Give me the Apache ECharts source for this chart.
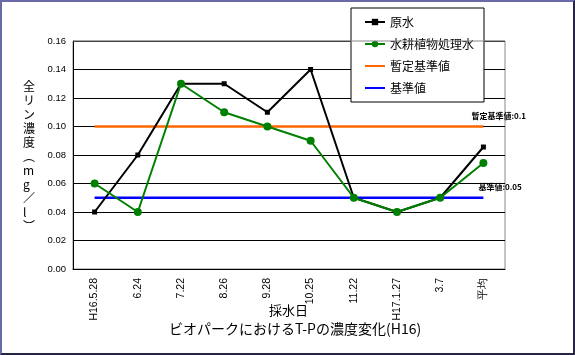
<!DOCTYPE html>
<html><head><meta charset="utf-8">
<script src="https://cdn.jsdelivr.net/npm/echarts@6/dist/echarts.min.js"></script>
<style>
html,body{margin:0;padding:0;background:#fff;}
#c{position:absolute;left:0;top:0;width:575px;height:355px;}
#f{position:absolute;left:0;top:0;width:575px;height:355px;box-sizing:border-box;border-top:2px solid #6a6aa8;border-left:2px solid #6a6aa8;border-right:2px solid #262644;border-bottom:2px solid #262644;pointer-events:none;}
</style></head>
<body><div id="c"></div><div id="f"></div>
<script>
var categories = ['H16.5.28','6.24','7.22','8.26','9.28','10.25','11.22','H17.1.27','3.7','平均'];
var rawWater = [0.04,0.08,0.13,0.13,0.11,0.14,0.05,0.04,0.05,0.0856];
var treatedWater = [0.06,0.04,0.13,0.11,0.10,0.09,0.05,0.04,0.05,0.0744];
var provisionalStd = [0.1,0.1,0.1,0.1,0.1,0.1,0.1,0.1,0.1,0.1];
var standard = [0.05,0.05,0.05,0.05,0.05,0.05,0.05,0.05,0.05,0.05];
var yTicks = {min:0, max:0.16, interval:0.02};
var seriesNames = ['原水','水耕植物処理水','暫定基準値','基準値'];
var stdLabels = ['暫定基準値:0.1','基準値:0.05'];

var FONT = '"Noto Sans CJK JP", "Noto Sans", sans-serif';
var LFONT = '"Liberation Sans", Arial, sans-serif';
function endLbl(text, off){
  return {show:true, formatter:text, offset:off, fontSize:8, fontWeight:'bold', color:'#000', fontFamily:FONT, distance:0};
}
var chart = echarts.init(document.getElementById('c'));
var yName = '全\nリ\nン\n濃\n度\n︵\nm\ng\n／\nl\n︶';
chart.setOption({
  animation:false,
  textStyle:{fontFamily:FONT},
  grid:{left:73,right:70,top:41,bottom:86,show:true,borderColor:'#888',borderWidth:1},
  legend:{
    orient:'vertical', left:351, top:8, padding:[8,10,8,13], itemWidth:20, itemHeight:8, itemGap:10,
    backgroundColor:'#fff', borderColor:'#000', borderWidth:1,
    textStyle:{fontSize:12, color:'#000', fontFamily:FONT},
    data:[
      {name:seriesNames[0]},
      {name:seriesNames[1]},
      {name:seriesNames[2], itemStyle:{opacity:0}},
      {name:seriesNames[3], itemStyle:{opacity:0}}
    ]
  },
  xAxis:{
    type:'category', data:categories, boundaryGap:true,
    axisLine:{lineStyle:{color:'#000',width:1}},
    axisTick:{inside:true,length:3,lineStyle:{color:'#000'}},
    axisLabel:{rotate:90, fontSize:10.5, color:'#000', margin:9, interval:0, fontFamily:LFONT},
    splitLine:{show:false}
  },
  yAxis:{
    type:'value', min:yTicks.min, max:yTicks.max, interval:yTicks.interval,
    axisLine:{show:true,lineStyle:{color:'#000',width:1}},
    axisTick:{show:true,inside:true,length:4,lineStyle:{color:'#000'}},
    axisLabel:{fontSize:9.5, color:'#000', margin:7, formatter:function(v){return v.toFixed(2);}, fontFamily:LFONT},
    splitLine:{show:true, lineStyle:{color:'#000', width:1}}
  },
  graphic:[
    {type:'text', left:23, top:79, style:{text:yName, fontSize:12, lineHeight:14, fill:'#000', align:'center', fontFamily:FONT}},
    {type:'text', left:269, top:304, style:{text:'採水日', fontSize:13, fill:'#000', fontFamily:FONT}},
    {type:'text', left:169, top:322, style:{text:'ビオパークにおけるT-Pの濃度変化(H16)', fontSize:14, fill:'#000', fontFamily:FONT}},
    {type:'line', shape:{x1:73,y1:41,x2:505,y2:41}, style:{stroke:'#888',lineWidth:1}, z:10}
  ],
  series:[
    {name:seriesNames[0], type:'line', data:rawWater, symbol:'rect', symbolSize:5, showAllSymbol:true,
     itemStyle:{color:'#000'}, lineStyle:{color:'#000',width:2}, z:3},
    {name:seriesNames[1], type:'line', data:treatedWater, symbol:'circle', symbolSize:8,
     itemStyle:{color:'#008000'}, lineStyle:{color:'#008000',width:2}, z:4},
    {name:seriesNames[2], type:'line', data:provisionalStd, symbol:'none',
     itemStyle:{color:'#ff6600'}, lineStyle:{color:'#ff6600',width:2.5}, z:2,
     endLabel:endLbl(stdLabels[0],[-12,-11])},
    {name:seriesNames[3], type:'line', data:standard, symbol:'none',
     itemStyle:{color:'#0000ff'}, lineStyle:{color:'#0000ff',width:2.5}, z:2,
     endLabel:endLbl(stdLabels[1],[-5,-11])}
  ]
});
</script></body></html>
